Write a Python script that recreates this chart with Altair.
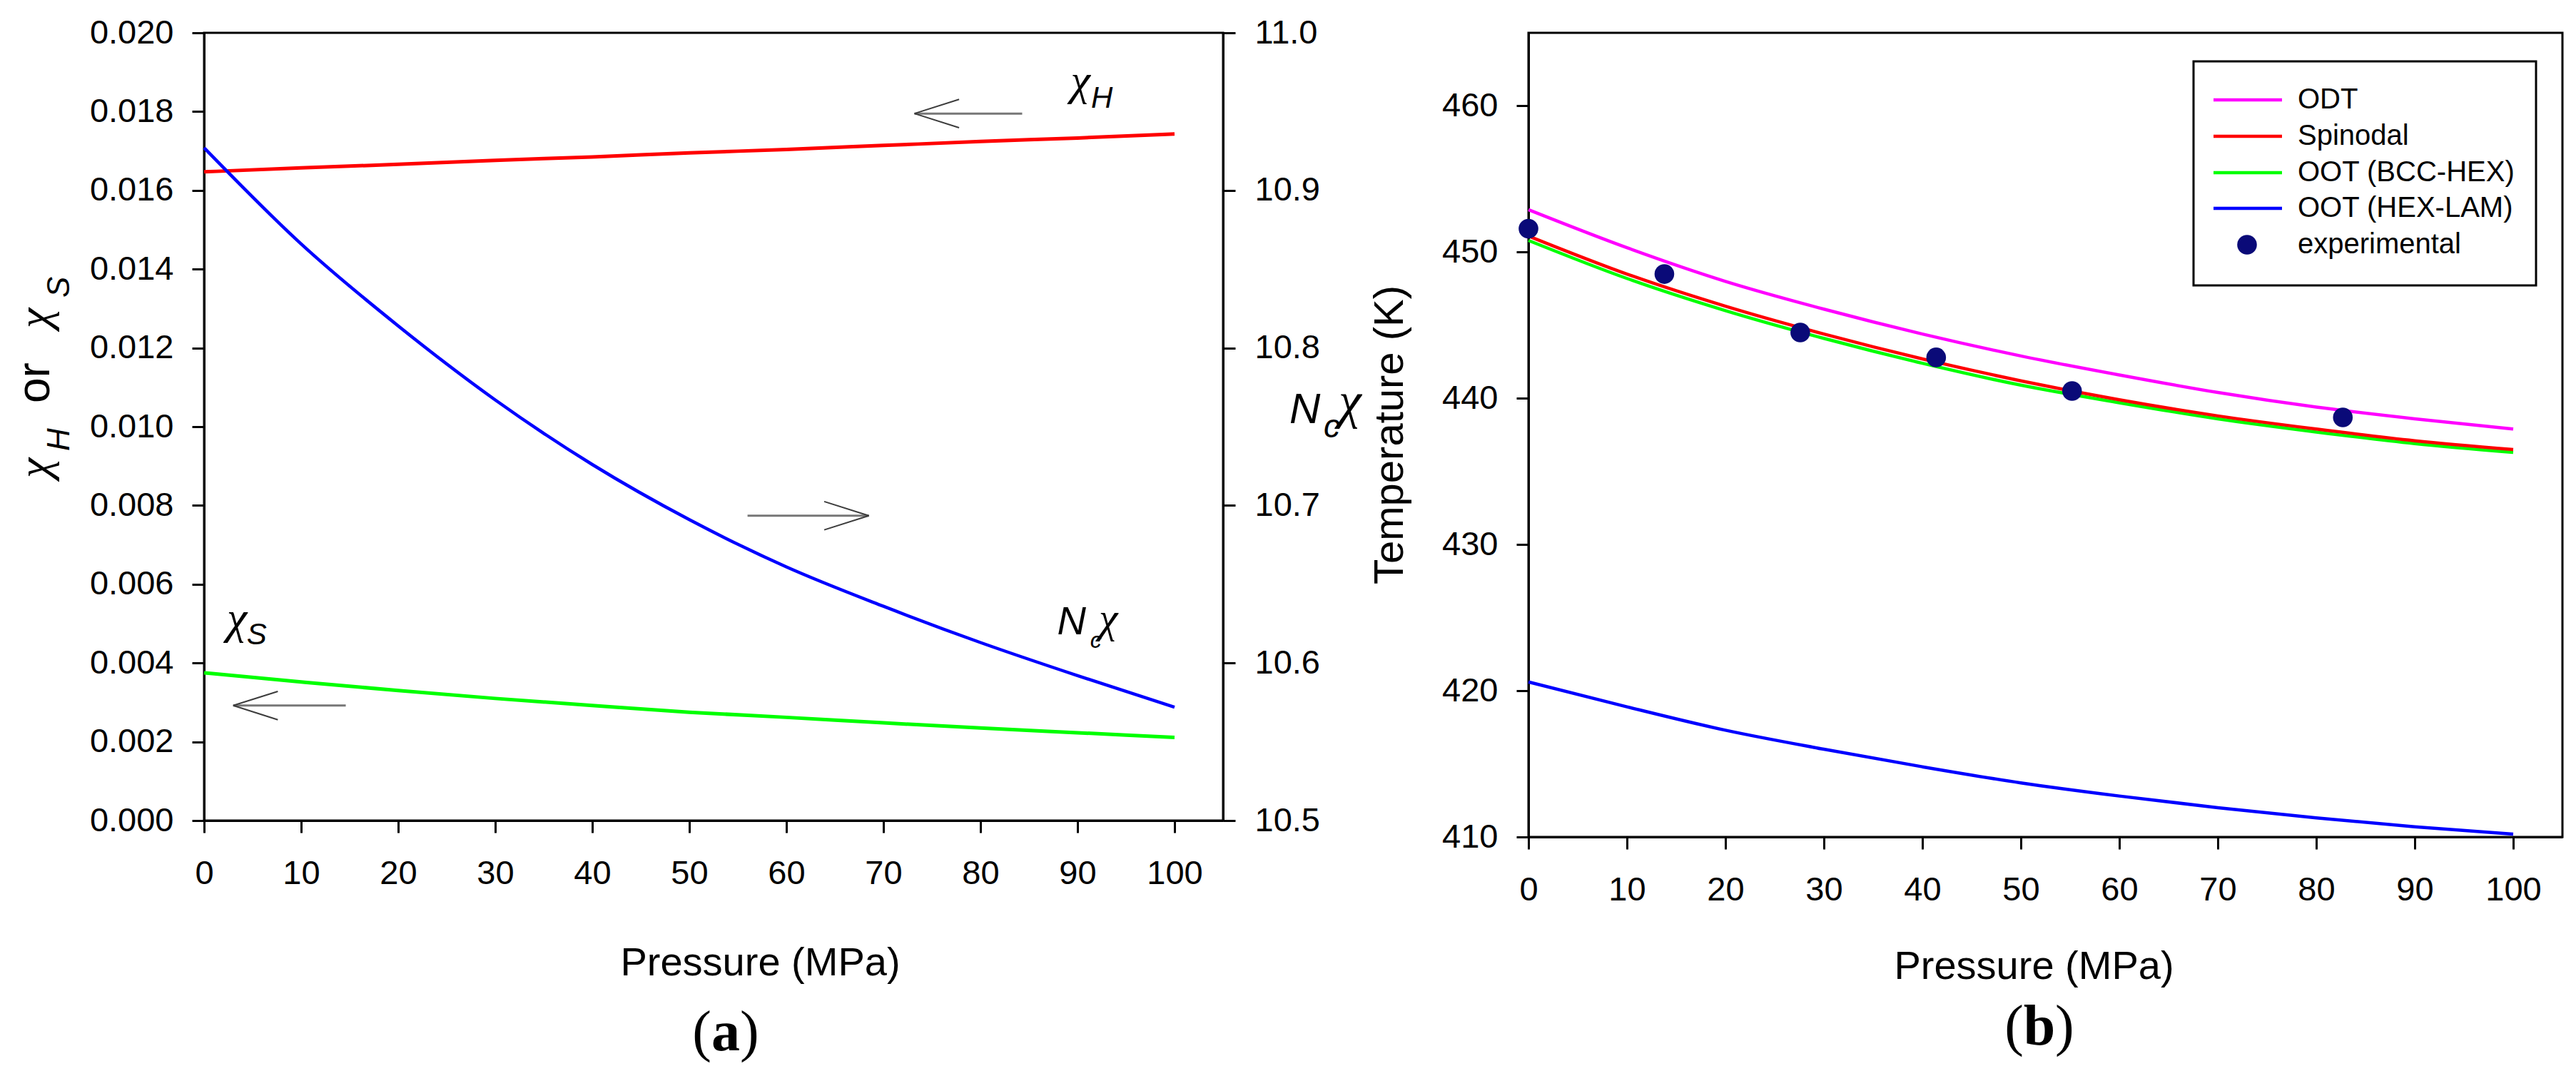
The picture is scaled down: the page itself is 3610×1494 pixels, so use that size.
import altair as alt
import pandas as pd

# pressure grid (MPa) at which the model curves were read
PRESSURE = [0, 10, 20, 30, 40, 50, 60, 70, 80, 90, 100]

# panel (a): interaction parameters vs pressure
CHI_H = [0.01647, 0.01657, 0.01666, 0.01676, 0.01685, 0.01695, 0.01704, 0.01714, 0.01724, 0.01733, 0.01743]
CHI_S = [0.00375, 0.00352, 0.00330, 0.00310, 0.00292, 0.00275, 0.00262, 0.00248, 0.00235, 0.00223, 0.00211]
NC_CHI = [10.927, 10.866, 10.814, 10.767, 10.726, 10.691, 10.661, 10.636, 10.613, 10.592, 10.572]

# panel (b): transition temperatures vs pressure
T_ODT = [452.9, 450.3, 448.0, 446.1, 444.4, 442.9, 441.6, 440.4, 439.4, 438.6, 437.9]
T_SPINODAL = [451.1, 448.5, 446.3, 444.4, 442.7, 441.2, 439.9, 438.8, 437.9, 437.1, 436.5]
T_BCC_HEX = [450.8, 448.2, 446.0, 444.1, 442.4, 440.9, 439.7, 438.6, 437.7, 436.9, 436.3]
T_HEX_LAM = [420.6, 418.9, 417.3, 416.0, 414.8, 413.7, 412.8, 412.0, 411.3, 410.7, 410.2]

EXP_P = [0, 13.8, 27.6, 41.4, 55.2, 82.7]
EXP_T = [451.6, 448.5, 444.5, 442.8, 440.5, 438.7]

SERIES_B = ["ODT", "Spinodal", "OOT (BCC-HEX)", "OOT (HEX-LAM)"]
COLORS_B = ["#ff00ff", "#ff0000", "#00ff00", "#0000ff"]
EXP_NAME = "experimental"
NAVY = "#0a0a78"

SANS = "Liberation Sans"
SERIF = "Liberation Serif"
ONE = pd.DataFrame({"k": [0]})


def px_text(x, y, text, size, font=SANS, style="normal", weight="normal",
            align="left", baseline="alphabetic", angle=0):
    kw = dict(text=text, font=font, fontSize=size, fontStyle=style, fontWeight=weight,
              align=align, baseline=baseline, color="black")
    if angle:
        kw["angle"] = angle
    return alt.Chart(ONE).mark_text(**kw).encode(x=alt.value(x), y=alt.value(y))


def data_text(p, v, text, size, xenc, yenc, font=SANS, style="italic"):
    df = pd.DataFrame({"P": [p], "v": [v]})
    return (alt.Chart(df)
            .mark_text(text=text, font=font, fontSize=size, fontStyle=style,
                       align="left", baseline="alphabetic", color="black")
            .encode(x=xenc, y=yenc))


def arrow(head, tail, v, xenc, yenc, dp=4.6, dv=0.00036):
    sign = 1 if tail > head else -1
    shaft = (alt.Chart(pd.DataFrame({"P": [tail], "P2": [head], "v": [v]}))
             .mark_rule(color="#777777", strokeWidth=3)
             .encode(x=xenc, x2="P2:Q", y=yenc))
    barbs = (alt.Chart(pd.DataFrame({"P": [head, head], "P2": [head + sign * dp] * 2,
                                     "v": [v, v], "v2": [v + dv, v - dv]}))
             .mark_rule(color="#3c3c3c", strokeWidth=2)
             .encode(x=xenc, x2="P2:Q", y=yenc, y2="v2:Q"))
    return [shaft, barbs]


# ---------------- panel (a) ----------------
xa = alt.X("P:Q", title="Pressure (MPa)",
           scale=alt.Scale(domain=[0, 105], nice=False, zero=False),
           axis=alt.Axis(values=PRESSURE, labelPadding=34, titleX=779, titleY=216,
                         titleAlign="center", titleBaseline="alphabetic"))
ya = alt.Y("v:Q", title=None,
           scale=alt.Scale(domain=[0, 0.02], nice=False),
           axis=alt.Axis(values=[round(i * 0.002, 3) for i in range(11)],
                         format=".3f", labelPadding=26))
yr = alt.Y("N:Q", title=None,
           scale=alt.Scale(domain=[10.5, 11.0], nice=False, zero=False),
           axis=alt.Axis(orient="right", values=[10.5, 10.6, 10.7, 10.8, 10.9, 11.0],
                         format=".1f", labelPadding=27))

red = (alt.Chart(pd.DataFrame({"P": PRESSURE, "v": CHI_H}))
       .mark_line(color="#ff0000", strokeWidth=5, interpolate="monotone")
       .encode(x=xa, y=ya))
green = (alt.Chart(pd.DataFrame({"P": PRESSURE, "v": CHI_S}))
         .mark_line(color="#00ff00", strokeWidth=5, interpolate="monotone")
         .encode(x=xa, y=ya))
blue = (alt.Chart(pd.DataFrame({"P": PRESSURE, "N": NC_CHI}))
        .mark_line(color="#0000ff", strokeWidth=4.5, interpolate="monotone")
        .encode(x=xa, y=yr))

notes_a = [
    data_text(89.3, 0.01842, "χ", 62, xa, ya, font=SERIF),
    data_text(91.4, 0.01810, "H", 42, xa, ya),
    data_text(2.35, 0.00476, "χ", 64, xa, ya, font=SERIF),
    data_text(4.4, 0.00447, "S", 42, xa, ya),
    data_text(87.9, 0.00473, "N", 56, xa, ya),
    data_text(91.3, 0.00438, "c", 32, xa, ya),
    data_text(92.2, 0.00478, "χ", 60, xa, ya, font=SERIF),
]
notes_a += arrow(73.2, 84.3, 0.01795, xa, ya)
notes_a += arrow(68.5, 56.0, 0.00774, xa, ya)
notes_a += arrow(3.0, 14.6, 0.00292, xa, ya)

titles_a = [
    # left axis title: chi_H or chi_S, read bottom to top
    px_text(-217, 624, "χ", 64, font=SERIF, style="italic", angle=270),
    px_text(-189, 586, "H", 44, style="italic", angle=270),
    px_text(-217, 519, "or", 64, angle=270),
    px_text(-217, 414, "χ", 64, font=SERIF, style="italic", angle=270),
    px_text(-189, 371, "S", 44, style="italic", angle=270),
    # right axis title: N_c chi
    px_text(1521, 547, "N", 60, style="italic"),
    px_text(1569, 567, "c", 46, style="italic"),
    px_text(1590, 540, "χ", 72, font=SERIF, style="italic"),
    # panel tag
    px_text(711, 1426, "(", 80, font=SERIF, align="right"),
    px_text(731, 1426, "a", 80, font=SERIF, weight="bold", align="center"),
    px_text(751, 1426, ")", 80, font=SERIF),
]

# invisible point fixing the top-left of the drawing
anchor = (alt.Chart(ONE).mark_circle(opacity=0, size=1)
          .encode(x=alt.value(-300), y=alt.value(-40)))

left_group = alt.layer(red, green, *notes_a, *titles_a, anchor)
right_group = alt.layer(blue)
panel_a = (alt.layer(left_group, right_group)
           .resolve_scale(y="independent")
           .properties(width=1428, height=1104))

# ---------------- panel (b) ----------------
xb = alt.X("P:Q", title="Pressure (MPa)",
           scale=alt.Scale(domain=[0, 105], nice=False, zero=False),
           axis=alt.Axis(values=PRESSURE, labelPadding=34, titleX=708, titleY=198,
                         titleAlign="center", titleBaseline="alphabetic"))
yb = alt.Y("T:Q", title="Temperature (K)",
           scale=alt.Scale(domain=[410, 465], nice=False, zero=False),
           axis=alt.Axis(values=[410, 420, 430, 440, 450, 460], labelPadding=26,
                         titleX=-177, titleY=563, titleAngle=270,
                         titleAlign="center", titleBaseline="alphabetic", titleFontSize=58))

curves_b = dict(zip(SERIES_B, [T_ODT, T_SPINODAL, T_BCC_HEX, T_HEX_LAM]))
colors_b = dict(zip(SERIES_B, COLORS_B))
lines_b = []
for name in reversed(SERIES_B):
    lines_b.append(
        alt.Chart(pd.DataFrame({"P": PRESSURE, "T": curves_b[name]}))
        .mark_line(color=colors_b[name], strokeWidth=4.5, interpolate="monotone")
        .encode(x=xb, y=yb))

points_b = (alt.Chart(pd.DataFrame({"P": EXP_P, "T": EXP_T}))
            .mark_circle(color=NAVY, opacity=1, size=760)
            .encode(x=xb, y=yb))

legend = [alt.Chart(ONE).mark_rect(fill="white", stroke="black", strokeWidth=3)
          .encode(x=alt.value(932), x2=alt.value(1412), y=alt.value(40), y2=alt.value(354))]
row_y = [94, 145, 196, 246, 297]
for i, name in enumerate(SERIES_B):
    legend.append(alt.Chart(ONE).mark_rule(color=COLORS_B[i], strokeWidth=4.5)
                  .encode(x=alt.value(960), x2=alt.value(1056), y=alt.value(row_y[i])))
    legend.append(px_text(1078, row_y[i], name, 40, baseline="middle"))
legend.append(alt.Chart(ONE).mark_circle(color=NAVY, opacity=1, size=760)
              .encode(x=alt.value(1007), y=alt.value(row_y[4])))
legend.append(px_text(1078, row_y[4], EXP_NAME, 40, baseline="middle"))

tag_b = [
    px_text(694, 1418, "(", 80, font=SERIF, align="right"),
    px_text(716, 1418, "b", 80, font=SERIF, weight="bold", align="center"),
    px_text(738, 1418, ")", 80, font=SERIF),
]

panel_b = alt.layer(*lines_b, points_b, *legend, *tag_b).properties(width=1449, height=1127)

chart = (alt.hconcat(panel_a, panel_b, spacing=428, bounds="flush")
         .properties(padding={"left": -24, "top": -4, "right": 0, "bottom": 0},
                     background="white")
         .configure_view(stroke="black", strokeWidth=3)
         .configure_axis(grid=False, domainColor="black", domainWidth=3,
                         tickColor="black", tickWidth=3, tickSize=17,
                         labelFont=SANS, labelFontSize=47, labelColor="black",
                         labelFlush=False, labelOverlap=False,
                         titleFont=SANS, titleFontSize=56, titleFontWeight="normal",
                         titleColor="black"))

chart.save("out.html", embed_options={"renderer": "svg", "actions": False})
